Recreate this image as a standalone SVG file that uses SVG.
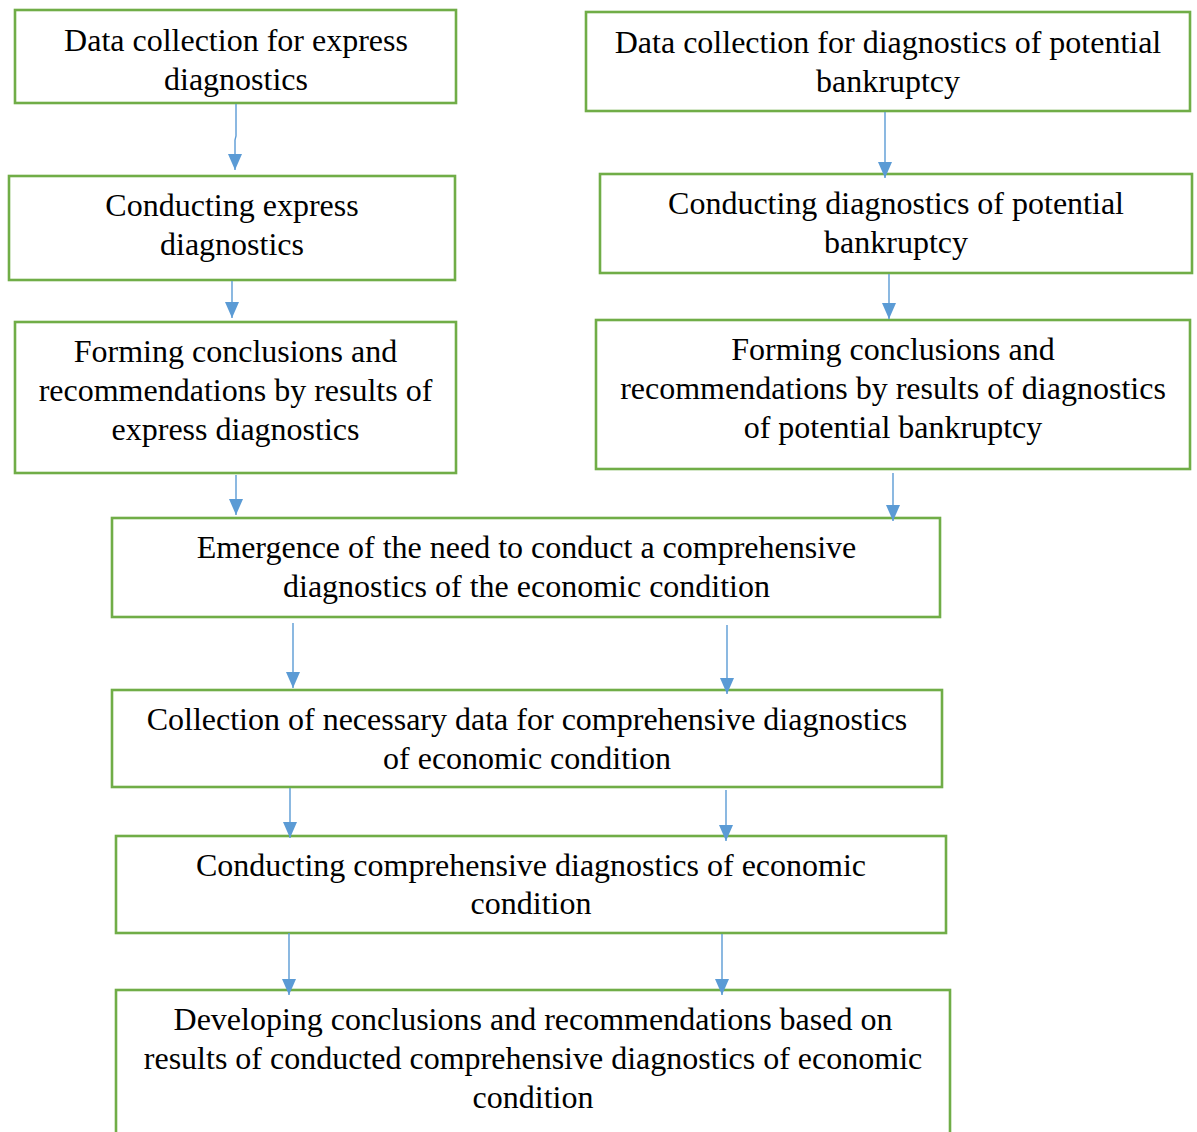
<svg xmlns="http://www.w3.org/2000/svg" width="1197" height="1132" viewBox="0 0 1197 1132">
<style>
.box{fill:#fff;stroke:#70AD47;stroke-width:2.6}
.t{font-family:"Liberation Serif","Times New Roman",serif;font-size:32px;fill:#000;text-anchor:middle}
.c{fill:none;stroke:#5B9BD5;stroke-width:1.4}
</style>
<defs>
<marker id="ah" markerUnits="userSpaceOnUse" markerWidth="16" markerHeight="14" viewBox="0 0 16 14" refX="16" refY="7" orient="auto">
<path d="M0,0 L16,7 L0,14 z" fill="#5B9BD5"/>
</marker>
</defs>
<rect width="1197" height="1132" fill="#fff"/>
<g id="n1"><rect class="box" x="15" y="10" width="441" height="93"/>
<text class="t" x="236" y="51">Data collection for express</text><text class="t" x="236" y="90">diagnostics</text></g>
<g id="n2"><rect class="box" x="586" y="12" width="604" height="99"/>
<text class="t" x="888" y="53">Data collection for diagnostics of potential</text><text class="t" x="888" y="92">bankruptcy</text></g>
<g id="n3"><rect class="box" x="9" y="176" width="446" height="104"/>
<text class="t" x="232" y="216">Conducting express</text><text class="t" x="232" y="255">diagnostics</text></g>
<g id="n4"><rect class="box" x="600" y="174" width="592" height="99"/>
<text class="t" x="896" y="214">Conducting diagnostics of potential</text><text class="t" x="896" y="253">bankruptcy</text></g>
<g id="n5"><rect class="box" x="15" y="322" width="441" height="151"/>
<text class="t" x="235.5" y="362">Forming conclusions and</text><text class="t" x="235.5" y="401">recommendations by results of</text><text class="t" x="235.5" y="440">express diagnostics</text></g>
<g id="n6"><rect class="box" x="596" y="320" width="594" height="149"/>
<text class="t" x="893" y="360">Forming conclusions and</text><text class="t" x="893" y="399">recommendations by results of diagnostics</text><text class="t" x="893" y="438">of potential bankruptcy</text></g>
<g id="n7"><rect class="box" x="112" y="518" width="828" height="99"/>
<text class="t" x="526.5" y="558">Emergence of the need to conduct a comprehensive</text><text class="t" x="526.5" y="597">diagnostics of the economic condition</text></g>
<g id="n8"><rect class="box" x="112" y="690" width="830" height="97"/>
<text class="t" x="527" y="730">Collection of necessary data for comprehensive diagnostics</text><text class="t" x="527" y="769">of economic condition</text></g>
<g id="n9"><rect class="box" x="116" y="836" width="830" height="97"/>
<text class="t" x="531" y="876">Conducting comprehensive diagnostics of economic</text><text class="t" x="531" y="914">condition</text></g>
<g id="n10"><rect class="box" x="116" y="990" width="834" height="160"/>
<text class="t" x="533" y="1030">Developing conclusions and recommendations based on</text><text class="t" x="533" y="1069">results of conducted comprehensive diagnostics of economic</text><text class="t" x="533" y="1108">condition</text></g>
<g id="connectors">
<path class="c" marker-end="url(#ah)" d="M236,104 V136 L235,140 V170"/>
<path class="c" marker-end="url(#ah)" d="M232,281 V318"/>
<path class="c" marker-end="url(#ah)" d="M885,112 V178"/>
<path class="c" marker-end="url(#ah)" d="M889,274 V319"/>
<path class="c" marker-end="url(#ah)" d="M236,475 V515"/>
<path class="c" marker-end="url(#ah)" d="M893,473 V521"/>
<path class="c" marker-end="url(#ah)" d="M293,623 V688"/>
<path class="c" marker-end="url(#ah)" d="M727,625 V694"/>
<path class="c" marker-end="url(#ah)" d="M290,788 V838"/>
<path class="c" marker-end="url(#ah)" d="M726,790 V841"/>
<path class="c" marker-end="url(#ah)" d="M289,933 V995"/>
<path class="c" marker-end="url(#ah)" d="M722,934 V995"/>
</g>
</svg>
